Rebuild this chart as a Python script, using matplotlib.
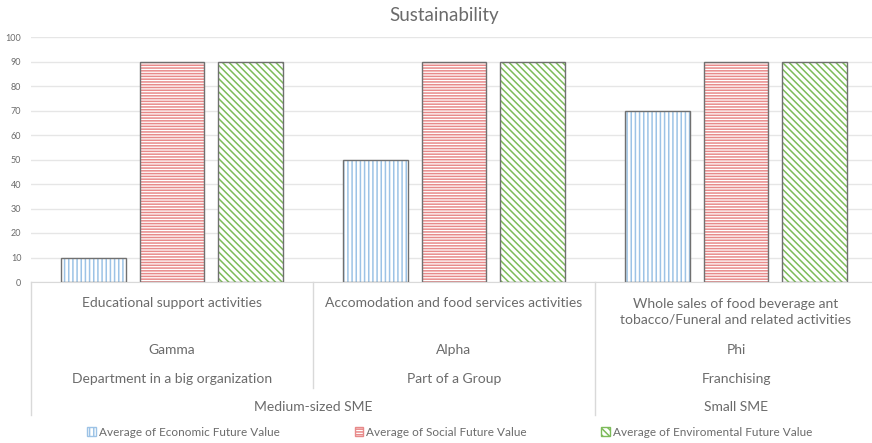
import matplotlib
matplotlib.use("Agg")
import matplotlib.pyplot as plt
import matplotlib.transforms as mtransforms
from matplotlib.patches import Patch
import numpy as np

# data
sectors = ["Educational support activities",
           "Accomodation and food services activities",
           "Whole sales of food beverage ant\ntobacco/Funeral and related activities"]
companies = ["Gamma", "Alpha", "Phi"]
structures = ["Department in a big organization", "Part of a Group", "Franchising"]
sizes = ["Medium-sized SME", "Small SME"]
size_groups = [[0, 1], [2]]  # which columns belong to which size

economic = [10, 50, 70]
social = [90, 90, 90]
environmental = [90, 90, 90]

series_names = ["Average of Economic Future Value",
                "Average of Social Future Value",
                "Average of Enviromental Future Value"]

plt.rcParams['font.family'] = ['Lato', 'DejaVu Sans']
plt.rcParams['hatch.linewidth'] = 1.1
txt = "#6b6b6b"

W, H = 872, 443
fig = plt.figure(figsize=(W / 100, H / 100), dpi=100)
ax = fig.add_axes([31 / W, (H - 282) / H, (W - 31) / W, (282 - 37) / H])

x = np.arange(len(companies))
offsets = [-0.278, 0, 0.278]
bw = 0.228
hatches = ['||||', '------', '\\\\\\\\\\']
hcolors = ['#9dc3e6', '#e88a8a', '#7dbb5a']
values = [economic, social, environmental]

for off, vals, h, hc in zip(offsets, values, hatches, hcolors):
    ax.bar(x + off, vals, bw, color='white', hatch=h, edgecolor=hc, linewidth=0, zorder=2)
    ax.bar(x + off, vals, bw, fill=False, edgecolor='#707070', linewidth=1.0, zorder=3)

ax.set_xlim(-0.5, -0.5 + (W - 31) / 282)
ax.set_ylim(0, 100)
ax.set_yticks(range(0, 101, 10))
ax.tick_params(axis='y', labelsize=6.5, colors=txt, length=0, pad=7)
ax.set_xticks([])
ax.grid(axis='y', color='#e6e6e6', linewidth=1, zorder=0)
for s in ['top', 'right', 'left']:
    ax.spines[s].set_visible(False)
ax.spines['bottom'].set_color('#d9d9d9')

fig.text(444 / W, 1 - 15 / H, "Sustainability", ha='center', va='center',
         fontsize=13.5, color=txt)

# multi-level category axis
tr = mtransforms.blended_transform_factory(ax.transData, fig.transFigure)

def fy(py):
    return 1 - py / H

fs = 10
for i in range(len(companies)):
    if "\n" in sectors[i]:
        ax.text(i, fy(312), sectors[i], transform=tr, ha='center', va='center',
                fontsize=fs, color=txt, linespacing=1.3)
    else:
        ax.text(i, fy(303), sectors[i], transform=tr, ha='center', va='center',
                fontsize=fs, color=txt)
    ax.text(i, fy(350), companies[i], transform=tr, ha='center', va='center',
            fontsize=fs, color=txt)
    ax.text(i, fy(379), structures[i], transform=tr, ha='center', va='center',
            fontsize=fs, color=txt)

for name, grp in zip(sizes, size_groups):
    ax.text(np.mean(grp), fy(407), name, transform=tr, ha='center', va='center',
            fontsize=fs, color=txt)

# separator lines
lc = '#d9d9d9'
ax.plot([-0.5, -0.5], [fy(282), fy(415)], transform=tr, color=lc, lw=1, clip_on=False)
ax.plot([0.5, 0.5], [fy(282), fy(388)], transform=tr, color=lc, lw=1, clip_on=False)
ax.plot([1.5, 1.5], [fy(282), fy(415)], transform=tr, color=lc, lw=1, clip_on=False)

handles = [Patch(facecolor='white', edgecolor=hc, hatch=h) for h, hc in zip(hatches, hcolors)]
leg = fig.legend(handles, series_names, loc='center', bbox_to_anchor=(450 / W, 1 - 432 / H),
                 ncol=3, frameon=False, fontsize=8.5, handlelength=0.7, handleheight=0.7,
                 handletextpad=0.3, columnspacing=6.3, labelcolor=txt)
for p in leg.get_patches():
    p.set_linewidth(1.0)

fig.savefig("out.png", dpi=100)
